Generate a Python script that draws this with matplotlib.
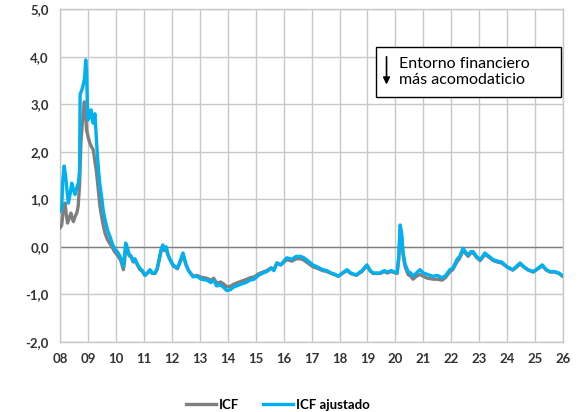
import matplotlib
matplotlib.use("Agg")
import matplotlib.pyplot as plt
from matplotlib.patches import Rectangle

# ICF ajustado (blue), decimal year -> value
adj_dates = [2008.0, 2008.06, 2008.10, 2008.15, 2008.20, 2008.24, 2008.30, 2008.36, 2008.42, 2008.48,
             2008.54, 2008.60, 2008.66, 2008.70, 2008.72, 2008.78, 2008.83, 2008.88, 2008.92, 2008.95,
             2008.98, 2009.01, 2009.06, 2009.11, 2009.15, 2009.19, 2009.25, 2009.28, 2009.33, 2009.38,
             2009.43, 2009.50, 2009.55, 2009.62, 2009.68, 2009.73, 2009.80, 2009.88, 2009.97, 2010.05,
             2010.15, 2010.22, 2010.27, 2010.31, 2010.35, 2010.40, 2010.47, 2010.55, 2010.62, 2010.68,
             2010.76, 2010.85, 2010.95, 2011.04, 2011.12, 2011.22, 2011.30, 2011.40, 2011.48, 2011.55,
             2011.62, 2011.68, 2011.74, 2011.80, 2011.86, 2011.94, 2012.05, 2012.20, 2012.30, 2012.40,
             2012.50, 2012.60, 2012.76, 2012.90, 2013.05, 2013.25, 2013.40, 2013.50, 2013.60, 2013.75,
             2013.85, 2013.97, 2014.10, 2014.20, 2014.33, 2014.50, 2014.65, 2014.80, 2014.95, 2015.10,
             2015.26, 2015.40, 2015.55, 2015.65, 2015.76, 2015.90, 2016.05, 2016.12, 2016.30, 2016.45,
             2016.59, 2016.70, 2016.84, 2017.05, 2017.20, 2017.40, 2017.55, 2017.70, 2017.85, 2017.95,
             2018.10, 2018.27, 2018.40, 2018.60, 2018.80, 2018.98, 2019.10, 2019.20, 2019.45, 2019.60,
             2019.70, 2019.85, 2020.06, 2020.12, 2020.17, 2020.22, 2020.27, 2020.34, 2020.45, 2020.55,
             2020.63, 2020.75, 2020.88, 2021.00, 2021.15, 2021.35, 2021.50, 2021.67, 2021.80, 2021.95,
             2022.05, 2022.20, 2022.30, 2022.42, 2022.50, 2022.60, 2022.70, 2022.78, 2022.90, 2023.03,
             2023.12, 2023.20, 2023.35, 2023.50, 2023.65, 2023.80, 2024.00, 2024.20, 2024.35, 2024.46,
             2024.60, 2024.75, 2024.93, 2025.10, 2025.25, 2025.40, 2025.53, 2025.70, 2025.85, 2025.96]
adj_values = [0.75, 0.80, 1.40, 1.70, 1.50, 1.25, 0.92, 1.10, 1.34, 1.20,
              1.10, 1.25, 1.35, 1.60, 3.20, 3.30, 3.40, 3.55, 3.93, 3.70,
              3.00, 2.67, 2.75, 2.88, 2.70, 2.60, 2.80, 2.50, 2.00, 1.60,
              1.30, 1.00, 0.75, 0.55, 0.40, 0.30, 0.20, 0.05, -0.05, -0.10,
              -0.20, -0.30, -0.42, -0.20, 0.08, 0.00, -0.15, -0.20, -0.30, -0.25,
              -0.35, -0.45, -0.50, -0.60, -0.55, -0.48, -0.55, -0.55, -0.45, -0.25,
              -0.05, 0.04, -0.05, 0.00, -0.15, -0.27, -0.38, -0.45, -0.30, -0.13,
              -0.35, -0.50, -0.63, -0.62, -0.68, -0.70, -0.75, -0.70, -0.82, -0.80,
              -0.85, -0.92, -0.90, -0.85, -0.82, -0.78, -0.75, -0.70, -0.68, -0.60,
              -0.55, -0.52, -0.45, -0.50, -0.34, -0.38, -0.27, -0.23, -0.26, -0.20,
              -0.20, -0.22, -0.28, -0.38, -0.42, -0.48, -0.50, -0.55, -0.58, -0.62,
              -0.55, -0.48, -0.55, -0.59, -0.50, -0.38, -0.50, -0.55, -0.55, -0.50,
              -0.53, -0.50, -0.55, -0.20, 0.46, 0.30, -0.10, -0.35, -0.52, -0.55,
              -0.62, -0.55, -0.48, -0.55, -0.58, -0.62, -0.60, -0.65, -0.60, -0.48,
              -0.45, -0.27, -0.20, -0.03, -0.10, -0.17, -0.10, -0.10, -0.20, -0.27,
              -0.20, -0.13, -0.20, -0.27, -0.30, -0.32, -0.42, -0.48, -0.40, -0.34,
              -0.42, -0.48, -0.52, -0.45, -0.38, -0.48, -0.52, -0.52, -0.55, -0.60]

# ICF (grey)
icf_dates = [2008.0, 2008.06, 2008.12, 2008.18, 2008.23, 2008.27, 2008.33, 2008.39, 2008.44, 2008.48,
             2008.55, 2008.60, 2008.65, 2008.70, 2008.75, 2008.80, 2008.87, 2008.91, 2008.95, 2009.01,
             2009.07, 2009.13, 2009.19, 2009.25, 2009.31, 2009.37, 2009.43, 2009.50, 2009.55, 2009.61,
             2009.70, 2009.78, 2009.85, 2009.95, 2010.09, 2010.18, 2010.27, 2010.31, 2010.35, 2010.40,
             2010.47, 2010.55, 2010.62, 2010.68, 2010.76, 2010.85, 2010.95, 2011.04, 2011.12, 2011.22,
             2011.30, 2011.40, 2011.48, 2011.55, 2011.62, 2011.68, 2011.74, 2011.80, 2011.86, 2011.94,
             2012.05, 2012.20, 2012.30, 2012.40, 2012.50, 2012.60, 2012.76, 2012.90, 2013.05, 2013.25,
             2013.40, 2013.50, 2013.60, 2013.75, 2013.85, 2013.97, 2014.10, 2014.20, 2014.33, 2014.50,
             2014.65, 2014.80, 2014.95, 2015.10, 2015.26, 2015.40, 2015.55, 2015.65, 2015.76, 2015.90,
             2016.05, 2016.12, 2016.30, 2016.45, 2016.59, 2016.70, 2016.84, 2017.05, 2017.20, 2017.40,
             2017.55, 2017.70, 2017.85, 2017.95, 2018.10, 2018.27, 2018.40, 2018.60, 2018.80, 2018.98,
             2019.10, 2019.20, 2019.45, 2019.60, 2019.70, 2019.85, 2020.06, 2020.12, 2020.17, 2020.22,
             2020.27, 2020.34, 2020.45, 2020.55, 2020.63, 2020.75, 2020.88, 2021.00, 2021.15, 2021.35,
             2021.50, 2021.67, 2021.80, 2021.95, 2022.05, 2022.20, 2022.30, 2022.42, 2022.50, 2022.60,
             2022.70, 2022.78, 2022.90, 2023.03, 2023.12, 2023.20, 2023.35, 2023.50, 2023.65, 2023.80,
             2024.00, 2024.20, 2024.35, 2024.46, 2024.60, 2024.75, 2024.93, 2025.10, 2025.25, 2025.40,
             2025.53, 2025.70, 2025.85, 2025.96]
icf_values = [0.40, 0.45, 0.80, 0.92, 0.65, 0.50, 0.60, 0.71, 0.60, 0.53,
              0.65, 0.71, 0.85, 1.30, 2.20, 2.60, 3.05, 2.90, 2.46, 2.30,
              2.18, 2.10, 2.04, 1.80, 1.55, 1.20, 0.85, 0.60, 0.45, 0.29,
              0.15, 0.07, 0.01, -0.10, -0.20, -0.30, -0.48, -0.30, 0.00, -0.05,
              -0.18, -0.22, -0.32, -0.28, -0.37, -0.47, -0.52, -0.60, -0.56, -0.50,
              -0.56, -0.56, -0.47, -0.28, -0.08, 0.00, -0.08, -0.03, -0.17, -0.28,
              -0.40, -0.46, -0.32, -0.16, -0.37, -0.50, -0.62, -0.60, -0.64, -0.66,
              -0.70, -0.66, -0.76, -0.74, -0.78, -0.84, -0.83, -0.79, -0.76, -0.72,
              -0.69, -0.65, -0.63, -0.57, -0.53, -0.50, -0.44, -0.48, -0.34, -0.38,
              -0.30, -0.27, -0.30, -0.25, -0.25, -0.27, -0.33, -0.42, -0.45, -0.50,
              -0.52, -0.56, -0.59, -0.62, -0.56, -0.50, -0.56, -0.60, -0.52, -0.40,
              -0.51, -0.56, -0.56, -0.52, -0.55, -0.52, -0.56, -0.25, 0.38, 0.22,
              -0.15, -0.40, -0.58, -0.62, -0.68, -0.62, -0.58, -0.62, -0.66, -0.68,
              -0.68, -0.70, -0.64, -0.52, -0.48, -0.32, -0.24, -0.07, -0.13, -0.20,
              -0.13, -0.13, -0.22, -0.29, -0.22, -0.16, -0.22, -0.29, -0.32, -0.34,
              -0.43, -0.49, -0.42, -0.36, -0.43, -0.49, -0.53, -0.46, -0.40, -0.49,
              -0.53, -0.53, -0.56, -0.61]

year_ticks = list(range(2008, 2027))
year_labels = [f"{y % 100:02d}" for y in year_ticks]
y_ticks = [-2, -1, 0, 1, 2, 3, 4, 5]

plt.rcParams['font.family'] = ['Lato', 'DejaVu Sans']

fig = plt.figure(figsize=(5.79, 4.12), dpi=100)
ax = fig.add_axes([0.1036, 0.170, 0.869, 0.808])

grey = '#7f7f7f'
blue = '#00b0f0'
ax.plot(icf_dates, icf_values, color=grey, lw=2.4, label='ICF', zorder=3)
ax.plot(adj_dates, adj_values, color=blue, lw=2.4, label='ICF ajustado', zorder=4)

ax.set_xlim(2008, 2026)
ax.set_ylim(-2, 5)
ax.set_xticks(year_ticks)
ax.set_xticklabels(year_labels)
ax.set_yticks(y_ticks)
ax.set_yticklabels([f"{v:.1f}".replace('.', ',') for v in y_ticks])
ax.grid(True, color='#c8c8c8', lw=1.0)
ax.set_axisbelow(True)
ax.axhline(0, color='#808080', lw=1.0, zorder=2)
for s in ax.spines.values():
    s.set_color('#c8c8c8')
    s.set_linewidth(1.0)
ax.tick_params(length=0, labelsize=9.5, colors='#333333', pad=8)
for lab in ax.get_xticklabels() + ax.get_yticklabels():
    lab.set_fontweight('bold')

# annotation box
ax.add_patch(Rectangle((0.629, 0.735), 0.367, 0.15, transform=ax.transAxes,
                       fill=True, facecolor='white', edgecolor='black', lw=1.0, zorder=5))
ax.annotate('', xy=(0.649, 0.765), xytext=(0.649, 0.865), xycoords='axes fraction',
            arrowprops=dict(arrowstyle='-|>', color='black', lw=1.2, mutation_scale=10), zorder=6)
ax.text(0.674, 0.81, 'Entorno financiero\nmás acomodaticio', transform=ax.transAxes,
        fontsize=11.5, va='center', ha='left', linespacing=1.15, zorder=6)

fig.legend(loc='center', bbox_to_anchor=(0.48, 0.017), ncol=2, frameon=False,
           handlelength=2.3, columnspacing=1.8, handletextpad=0.2,
           prop={'weight': 'bold', 'size': 9.5})

fig.savefig('out.png', dpi=100)
